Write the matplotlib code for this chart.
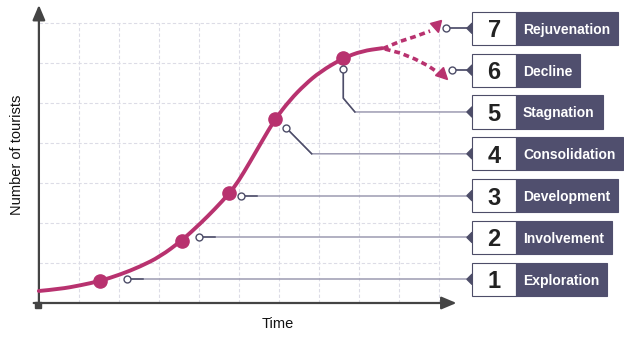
import matplotlib.pyplot as plt
from matplotlib.markers import MarkerStyle
from matplotlib.transforms import Affine2D
from matplotlib.patches import Rectangle, Polygon, PathPatch
from matplotlib.path import Path

plt.rcParams['font.family'] = ['Liberation Sans', 'DejaVu Sans']

# butler curve (grid units: time, number of tourists)
time = [0.01, 0.54, 1.04, 1.54, 2.04, 2.54, 3.04, 3.58, 4.04, 4.41, 4.77,
        4.99, 5.29, 5.59, 5.91, 6.29, 6.66, 7.04, 7.61, 8.09, 8.59]
tourists = [0.30, 0.35, 0.44, 0.55, 0.71, 0.91, 1.16, 1.56, 1.98, 2.35, 2.74,
            3.03, 3.53, 4.05, 4.59, 5.08, 5.46, 5.78, 6.12, 6.30, 6.37]

# stage dots on the curve
dot_time = [1.54, 3.58, 4.77, 5.91, 7.61]
dot_tourists = [0.55, 1.56, 2.74, 4.59, 6.12]

# the two possible futures (dotted)
rejuv_time = [8.61, 9.04, 9.41, 9.79]
rejuv_tourists = [6.36, 6.54, 6.66, 6.80]
decline_time = [8.66, 9.04, 9.41, 9.74, 9.96]
decline_tourists = [6.35, 6.25, 6.10, 5.93, 5.78]

stage_nums = ['1', '2', '3', '4', '5', '6', '7']
stage_names = ['Exploration', 'Involvement', 'Development', 'Consolidation',
               'Stagnation', 'Decline', 'Rejuvenation']

CURVE = '#b8326f'
AXIS = '#444444'
DARK = '#4d4d68'
LIGHT = '#9d9bb2'
BOX = '#504f6e'
GRID = '#dcdce6'


def smooth_path(xs, ys):
    # quadratic bezier through the midpoints, read points as controls
    pts = list(zip(xs, ys))
    verts = [pts[0]]
    codes = [Path.MOVETO]
    for i in range(1, len(pts) - 1):
        mid = ((pts[i][0] + pts[i + 1][0]) / 2, (pts[i][1] + pts[i + 1][1]) / 2)
        verts += [pts[i], mid]
        codes += [Path.CURVE3, Path.CURVE3]
    verts.append(pts[-1])
    codes.append(Path.LINETO)
    return Path(verts, codes)


# one axes over the whole figure, 1 grid unit = 40 px, origin at px (38.5, 303)
fig = plt.figure(figsize=(6.24, 3.51), dpi=100)
ax = fig.add_axes([0, 0, 1, 1])
ax.set_xlim((0 - 38.5) / 40, (624 - 38.5) / 40)
ax.set_ylim((303 - 351) / 40, 303 / 40)
ax.axis('off')

# dashed grid
ax.vlines(range(1, 11), 0, 7, colors=GRID, linestyles=(0, (3, 2)), lw=0.8, zorder=0)
ax.hlines(range(1, 8), 0, 10, colors=GRID, linestyles=(0, (3, 2)), lw=0.8, zorder=0)

# axes with arrows
arr = dict(arrowstyle='-|>,head_length=0.9,head_width=0.38', color=AXIS, lw=1.6,
           mutation_scale=10, shrinkA=0, shrinkB=0)
ax.annotate('', xy=(0.01, 7.45), xytext=(0.01, -0.1), arrowprops=arr)
ax.annotate('', xy=(10.45, 0), xytext=(-0.12, 0), arrowprops=arr)
ax.plot([-0.02], [-0.04], marker='s', ms=4, color=AXIS, zorder=3)

ax.text(-0.54, 3.7, 'Number of tourists', rotation=90, ha='center', va='center',
        fontsize=10.5, color='#111111')
ax.text(5.99, -0.53, 'Time', ha='center', va='center', fontsize=10.5, color='#111111')

# curve + dots
ax.add_patch(PathPatch(smooth_path(time, tourists), fc='none', ec=CURVE, lw=2.8,
                       capstyle='round', zorder=4))
ax.plot(dot_time, dot_tourists, 'o', color=CURVE, ms=9.5, zorder=5)
ax.plot(rejuv_time, rejuv_tourists, color=CURVE, lw=2.6, dashes=(1.6, 1.1), zorder=4)
ax.plot(decline_time, decline_tourists, color=CURVE, lw=2.6, dashes=(1.6, 1.1), zorder=4)
ax.plot([9.96], [6.89], marker=MarkerStyle('v', transform=Affine2D().rotate_deg(15)),
        color=CURVE, ms=8, zorder=5)
ax.plot([10.1], [5.69], marker=MarkerStyle('v', transform=Affine2D().rotate_deg(45)),
        color=CURVE, ms=8, zorder=5)

# label rows on the right
row_y = [0.5925 + 1.0458 * i for i in range(7)]
tip_x = 10.71
box_l = 10.84
num_r = 11.94
box_h = 0.83

paths = [
    [(2.22, row_y[0]), (tip_x, row_y[0])],
    [(4.01, row_y[1]), (tip_x, row_y[1])],
    [(5.06, row_y[2]), (tip_x, row_y[2])],
    [(6.19, 4.38), (6.83, row_y[3]), (tip_x, row_y[3])],
    [(7.62, 5.84), (7.62, 5.12), (7.91, row_y[4]), (tip_x, row_y[4])],
    [(10.33, row_y[5]), (tip_x, row_y[5])],
    [(10.19, row_y[6]), (tip_x, row_y[6])],
]
dark_until = [2.62, 4.41, 5.46, 6.83, 7.91, tip_x, tip_x]

for path, stop in zip(paths, dark_until):
    xs = [p[0] for p in path]
    ys = [p[1] for p in path]
    ax.plot(xs, ys, color=LIGHT, lw=1.1, zorder=2)
    dx = [x for x in xs[:-1]] + [stop]
    ax.plot(dx, ys, color=DARK, lw=1.1, zorder=2)
    ax.plot([xs[0]], [ys[0]], 'o', ms=5, mfc='white', mec=DARK, mew=1.0, zorder=6)

labels = []
for y, num, name in zip(row_y, stage_nums, stage_names):
    ax.add_patch(Polygon([(tip_x, y), (box_l, y + 0.13), (box_l, y - 0.13)],
                         closed=True, color=DARK, zorder=2))
    ax.add_patch(Rectangle((box_l, y - box_h / 2), num_r - box_l, box_h,
                           fc='white', ec=DARK, lw=0.8, zorder=3))
    ax.text((box_l + num_r) / 2, y, num, ha='center', va='center_baseline',
            fontsize=17, fontweight='bold', color='#222222', zorder=5)
    labels.append(ax.text(12.11, y, name, ha='left', va='center_baseline',
                          fontsize=10, fontweight='bold', color='white', zorder=5))

fig.canvas.draw()
renderer = fig.canvas.get_renderer()
inv = ax.transData.inverted()
for y, t in zip(row_y, labels):
    bb = t.get_window_extent(renderer)
    right = inv.transform((bb.x1 + 8, 0))[0]
    ax.add_patch(Rectangle((num_r, y - box_h / 2), right - num_r, box_h,
                           fc=BOX, ec=BOX, lw=0.8, zorder=3))

plt.savefig('out.png', dpi=100)
